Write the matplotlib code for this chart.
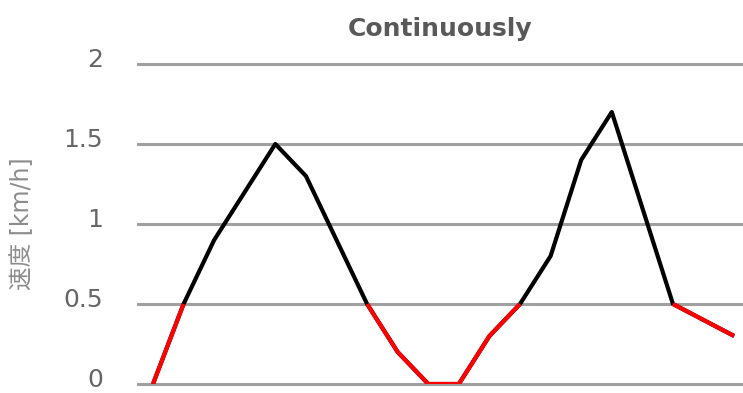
import numpy as np
import matplotlib
matplotlib.use('Agg')
import matplotlib.pyplot as plt
import matplotlib.transforms as mtransforms

plt.rcParams['font.family'] = ['DejaVu Sans', 'Noto Sans CJK JP']

# sample index and speed values
t = np.arange(20)
speed = [0, 0.5, 0.9, 1.2, 1.5, 1.3, 0.9, 0.5, 0.2, 0, 0, 0.3, 0.5, 0.8, 1.4, 1.7, 1.1, 0.5, 0.4, 0.3]
threshold = 0.5
yticks = [0, 0.5, 1, 1.5, 2]
ytick_labels = ['0', '0.5', '1', '1.5', '2']

speed = np.array(speed, dtype=float)
low = np.where(speed <= threshold, speed, np.nan)

fig = plt.figure(figsize=(7.43, 3.93), dpi=100)
ax = fig.add_axes([138/743, 9/393, 605/743, 320/393])

ax.plot(t, speed, color='black', lw=3, solid_capstyle='butt', zorder=3)
ax.plot(t, low, color='#ff0000', lw=3, solid_capstyle='butt', zorder=4)

ax.set_xlim(-0.49, 19.29)
ax.set_ylim(0, 2)
ax.set_yticks(yticks)
ax.set_yticklabels(ytick_labels)
ax.set_xticks([])
ax.yaxis.grid(True, color='#a0a0a0', lw=2.2)
for gl in ax.get_ygridlines():
    gl.set_clip_on(False)
ax.set_axisbelow(True)
for s in ax.spines.values():
    s.set_visible(False)
ax.tick_params(axis='y', length=0, pad=25, labelsize=18, labelcolor='#666666')
# labels sit a little above their gridlines
shift = mtransforms.ScaledTranslation(0, 5/72, fig.dpi_scale_trans)
for lab in ax.get_yticklabels():
    lab.set_transform(lab.get_transform() + shift)

ax.set_ylabel('速度 [km/h]', fontsize=17, color='#8c8c8c')
ax.yaxis.set_label_coords(-0.172, 0.5)
ax.set_title('Continuously', fontsize=18, fontweight='bold', color='#595959', pad=20)

fig.savefig('out.png', dpi=100)
